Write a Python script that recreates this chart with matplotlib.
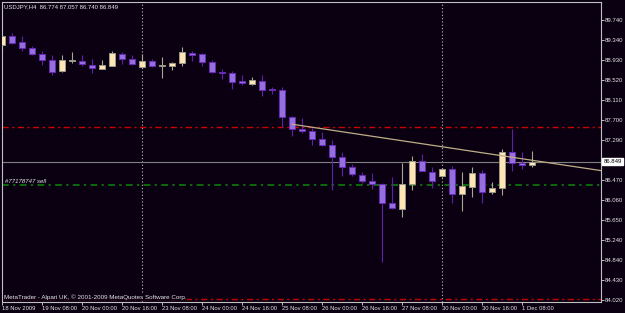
import matplotlib
matplotlib.use("Agg")
import matplotlib.pyplot as plt
from matplotlib.patches import Rectangle

# ---------------- data (USDJPY, H4) ----------------
opens = [89.22, 89.42, 89.29, 89.17, 89.05, 88.93, 88.69, 88.90, 88.91, 88.82,
         88.74, 88.81, 89.05, 88.95, 88.79, 88.91, 88.80, 88.81, 88.86, 89.07,
         89.04, 88.88, 88.67, 88.66, 88.50, 88.425, 88.50, 88.32, 88.305, 87.755,
         87.51, 87.47, 87.31, 87.18, 86.95, 86.74, 86.575, 86.46, 86.39, 86.00,
         85.88, 86.38, 86.86, 86.635, 86.56, 86.69, 86.18, 86.335, 86.61, 86.22,
         86.30, 87.05, 86.81, 86.774]
highs = [89.44, 89.47, 89.41, 89.20, 89.10, 89.02, 89.02, 89.08, 89.03, 88.94,
         88.92, 89.11, 89.09, 89.02, 89.05, 88.94, 88.98, 88.89, 89.18, 89.10,
         89.06, 88.92, 88.74, 88.69, 88.61, 88.57, 88.61, 88.38, 88.365, 87.78,
         87.73, 87.53, 87.45, 87.29, 87.04, 86.80, 86.645, 86.61, 86.40, 86.53,
         86.82, 86.955, 87.00, 86.74, 86.71, 86.76, 86.625, 86.74, 86.67, 86.435,
         87.11, 87.51, 87.05, 87.057]
lows = [89.11, 89.26, 89.11, 89.03, 88.82, 88.62, 88.68, 88.87, 88.81, 88.66,
        88.735, 88.80, 88.84, 88.82, 88.79, 88.785, 88.55, 88.71, 88.80, 88.90,
        88.81, 88.665, 88.535, 88.33, 88.42, 88.42, 88.19, 88.23, 87.55, 87.37,
        87.44, 87.19, 87.165, 86.27, 86.56, 86.56, 86.42, 86.29, 84.79, 85.88,
        85.71, 86.27, 86.65, 86.30, 86.53, 86.01, 85.845, 86.13, 86.01, 86.18,
        86.155, 86.66, 86.69, 86.740]
closes = [89.42, 89.28, 89.17, 89.05, 88.92, 88.68, 88.92, 88.915, 88.84, 88.755,
          88.82, 89.07, 88.94, 88.835, 88.91, 88.80, 88.815, 88.87, 89.08, 89.03,
          88.875, 88.67, 88.66, 88.48, 88.45, 88.505, 88.30, 88.31, 87.75, 87.51,
          87.47, 87.315, 87.18, 86.95, 86.74, 86.59, 86.455, 86.385, 86.00, 85.89,
          86.39, 86.86, 86.655, 86.45, 86.69, 86.18, 86.34, 86.61, 86.23, 86.315,
          87.05, 86.81, 86.77, 86.849]

time_tick_bars = [0, 4, 8, 12, 16, 20, 24, 28, 32, 36, 40, 44, 48, 52]
time_tick_labels = ["18 Nov 2009", "19 Nov 08:00", "20 Nov 00:00", "20 Nov 16:00",
                    "23 Nov 08:00", "24 Nov 00:00", "24 Nov 16:00", "25 Nov 08:00",
                    "26 Nov 00:00", "26 Nov 16:00", "27 Nov 08:00", "30 Nov 00:00",
                    "30 Nov 16:00", "1 Dec 08:00"]
price_ticks = [89.740, 89.340, 88.930, 88.520, 88.110, 87.700, 87.290,
               86.470, 86.060, 85.650, 85.240, 84.840, 84.430, 84.020]
week_separator_bars = [14, 44]
bid_price = 86.849
stop_loss = 87.548
order_price = 86.372
take_profit = 84.034
trend_bars = [29, 44]
trend_prices = [87.61, 87.15]
header = "USDJPY,H4  86.774 87.057 86.740 86.849"
order_label = "#77178747 sell"
footer = "MetaTrader - Alpari UK, \u00a9 2001-2009 MetaQuotes Software Corp."

# ---------------- style ----------------
BG = "#0a0012"
FG = "#e6e6e6"
BULL_FILL, BULL_EDGE = "#ffe4b5", "#9a9a8a"
BEAR_FILL, BEAR_EDGE = "#9370db", "#6a28b8"
BULL_WICK, BEAR_WICK = "#a8a890", "#6020a8"
RED = "#c80000"
plt.rcParams["font.family"] = ["Liberation Sans", "DejaVu Sans"]

W, H = 625, 313
fig = plt.figure(figsize=(W / 100, H / 100), dpi=100, facecolor=BG)
ax = fig.add_axes([2 / W, 11 / H, 598.5 / W, 300 / H], facecolor=BG)

xmin, xmax = -0.03, 59.82
ax.set_xlim(xmin, xmax)
ax.set_ylim(83.979, 90.108)

px = (90.108 - 83.979) / 300.0  # price per pixel

for k, (o, h, l, c) in enumerate(zip(opens, highs, lows, closes)):
    bull = c >= o
    ax.vlines(k, l, h, color=BULL_WICK if bull else BEAR_WICK, lw=0.8, zorder=2)
    lo, hi = min(o, c), max(o, c)
    if hi - lo < px:
        lo, hi = (lo + hi) / 2 - px / 2, (lo + hi) / 2 + px / 2
    ax.add_patch(Rectangle((k - 0.3, lo), 0.6, hi - lo,
                           facecolor=BULL_FILL if bull else BEAR_FILL,
                           edgecolor=BULL_EDGE if bull else BEAR_EDGE,
                           lw=0.7, zorder=3))

# week separators
for b in week_separator_bars:
    ax.axvline(b, color="#c0c0c0", lw=0.8, ls=(0, (1, 2)), zorder=1)

# horizontal levels
ax.axhline(stop_loss, color=RED, lw=1.0, ls=(0, (4.5, 2.5, 1.5, 2.5)), zorder=1)
ax.axhline(take_profit, color=RED, lw=1.0, ls=(0, (4.5, 2.5, 1.5, 2.5)), zorder=1)
ax.axhline(order_price, color="#0a6a0a", lw=1.4, ls=(0, (3.5, 2.2, 1.2, 2.2)), zorder=1)
ax.axhline(bid_price, color="#808080", lw=0.8, zorder=1)

# trend line (ray to the right)
slope = (trend_prices[1] - trend_prices[0]) / (trend_bars[1] - trend_bars[0])
ax.plot([trend_bars[0], xmax], [trend_prices[0], trend_prices[0] + slope * (xmax - trend_bars[0])],
        color="#bfae88", lw=0.9, zorder=4)

# axes styling
for s in ax.spines.values():
    s.set_color("#c0c0c0")
    s.set_linewidth(0.8)
ax.yaxis.tick_right()
ax.set_yticks(price_ticks)
ax.set_yticklabels([f"{v:.3f}" for v in price_ticks])
ax.set_xticks(time_tick_bars)
ax.set_xticklabels(time_tick_labels, ha="left")
ax.tick_params(axis="both", colors="#c0c0c0", labelcolor=FG, length=2.2, width=0.7,
               direction="out")
ax.tick_params(axis="y", labelsize=4.3, pad=1.2)
ax.tick_params(axis="x", labelsize=4.2, pad=0.4)

# bid label
ax.text(1.005, bid_price, f"{bid_price:.3f}", transform=ax.get_yaxis_transform(),
        fontsize=4.3, color="black", va="center", ha="left",
        bbox=dict(boxstyle="square,pad=0.2", facecolor="white", edgecolor="white"))

# texts
fig.text(4 / W, 1 - 6.7 / H, header, fontsize=4.3, color=FG, va="center", ha="left")
fig.text(5 / W, 1 - 181.3 / H, order_label, fontsize=4.3, color=FG, va="center",
         ha="left", style="italic")
fig.text(3.5 / W, 1 - 296.8 / H, footer, fontsize=4.5, color=FG, va="center", ha="left",
         bbox=dict(boxstyle="square,pad=0.1", facecolor=BG, edgecolor="none"))

fig.savefig("out.png", dpi=100, facecolor=BG)
